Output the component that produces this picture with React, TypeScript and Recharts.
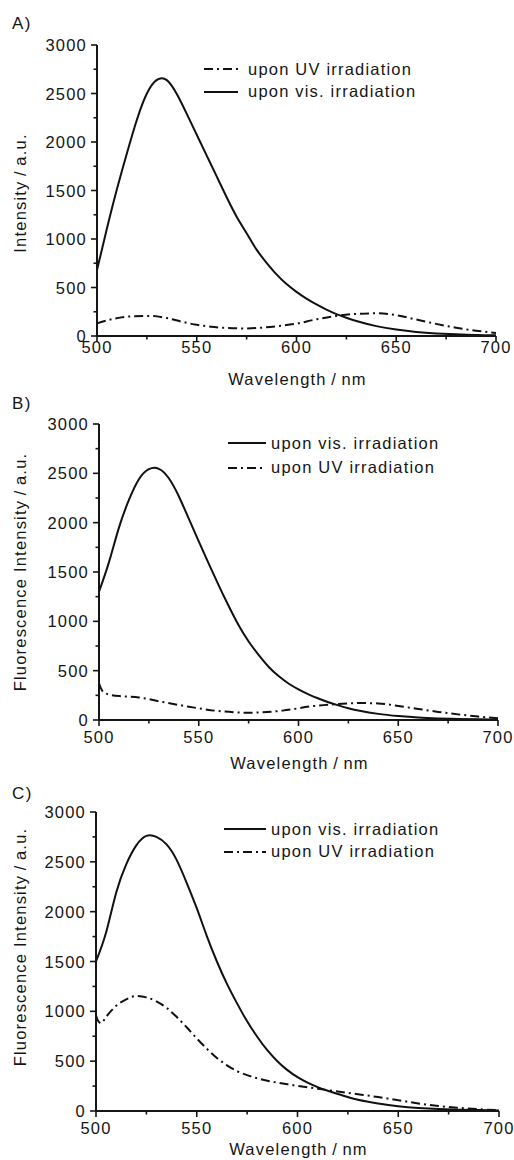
import React from 'react';
import { LineChart, Line, XAxis, YAxis, Legend } from 'recharts';

type Pt = [number, number];

// axis ticks (minor + major), labels only on the majors
const wavelengthTicks = [500, 525, 550, 575, 600, 625, 650, 675, 700];
const intensityTicks = [0, 250, 500, 750, 1000, 1250, 1500, 1750, 2000, 2250, 2500, 2750, 3000];
const wavelengthLabels = [500, 550, 600, 650, 700];
const intensityLabels = [0, 500, 1000, 1500, 2000, 2500, 3000];

// panel A
const aUv: Pt[] = [
  [500, 130], [509, 180], [518, 203], [527, 206], [535, 185], [542, 150], [550, 115],
  [557, 96], [565, 83], [574, 78], [582, 85], [591, 103], [600, 127], [609, 168],
  [620, 207], [630, 228], [640, 234], [650, 215], [660, 170], [670, 125], [680, 85],
  [690, 55], [700, 32],
];
const aVis: Pt[] = [
  [500, 680], [505, 1110], [510, 1515], [515, 1885], [520, 2230], [525, 2500], [530, 2640],
  [535, 2638], [540, 2495], [545, 2290], [550, 2075], [555, 1860], [560, 1645], [565, 1430],
  [570, 1230], [575, 1060], [580, 890], [585, 755], [590, 635], [595, 535], [600, 455],
  [605, 385], [610, 325], [615, 272], [620, 226], [625, 188], [630, 155], [640, 102],
  [650, 66], [660, 42], [670, 27], [680, 17], [690, 10], [700, 7],
];

// panel B
const bVis: Pt[] = [
  [500, 1300], [505, 1600], [510, 1950], [515, 2230], [520, 2440], [525, 2542], [530, 2546],
  [535, 2450], [540, 2268], [545, 2040], [550, 1810], [555, 1585], [560, 1365], [565, 1155],
  [570, 960], [575, 795], [580, 660], [585, 540], [590, 445], [595, 370], [600, 310],
  [605, 260], [610, 218], [615, 180], [620, 148], [625, 120], [630, 97], [640, 62],
  [650, 40], [660, 25], [670, 16], [680, 10], [690, 7], [700, 5],
];
const bUv: Pt[] = [
  [500, 372], [501, 320], [502, 287], [506, 253], [512, 240], [520, 228], [531, 186],
  [545, 135], [558, 95], [575, 74], [592, 95], [607, 140], [620, 162], [630, 172],
  [640, 168], [650, 142], [660, 112], [670, 82], [680, 57], [690, 35], [700, 18],
];

// panel C
const cVis: Pt[] = [
  [500, 1500], [505, 1790], [510, 2190], [515, 2475], [520, 2665], [525, 2760], [530, 2750],
  [535, 2675], [540, 2520], [545, 2290], [550, 2035], [555, 1755], [560, 1500], [565, 1275],
  [570, 1080], [575, 900], [580, 745], [585, 610], [590, 500], [595, 410], [600, 340],
  [605, 285], [610, 240], [615, 203], [620, 170], [625, 140], [630, 112], [640, 75],
  [650, 48], [660, 31], [670, 20], [680, 13], [690, 9], [700, 6],
];
const cUv: Pt[] = [
  [500, 960], [501, 905], [502.5, 882], [505, 945], [510, 1055], [515, 1120], [520, 1154],
  [525, 1140], [530, 1100], [535, 1035], [540, 945], [545, 840], [550, 728], [555, 625],
  [560, 532], [565, 458], [570, 400], [575, 360], [580, 328], [585, 303], [590, 285],
  [595, 268], [600, 252], [610, 224], [620, 195], [630, 168], [640, 140], [650, 108],
  [660, 76], [670, 50], [680, 32], [690, 18], [700, 8],
];

const FONT = '"Liberation Sans", Arial, Helvetica, sans-serif';
const INK = '#151515';
const textStyle: React.CSSProperties = { fontFamily: FONT, fontSize: 16.5, letterSpacing: '1.2px' };
const DASH_DOT = '9 4 2 4';

const toRows = (pts: Pt[]) => pts.map(([x, y]) => ({ x, y }));

interface Series { name: string; pts: Pt[]; dash?: string }

interface PanelCfg {
  tag: string;
  top: number;
  height: number;
  plotLeft: number;
  plotRight: number;
  plotTop: number;
  plotBottom: number;
  xLabelDy: number;
  xTitleY: number;
  yTitle: string;
  yTitleY: number;
  tagBaseline: number;
  legendX: number;
  legendY: number;
  legendRow: number;
  sampleW: number;
  sampleGap: number;
  series: Series[];
}

const panels: PanelCfg[] = [
  {
    tag: 'A)', top: 0, height: 392, plotLeft: 97, plotRight: 496, plotTop: 45, plotBottom: 336,
    xLabelDy: 17, xTitleY: 385, yTitle: 'Intensity\u2009/\u2009a.u.', yTitleY: 193, tagBaseline: 30,
    legendX: 204, legendY: 69, legendRow: 22.5, sampleW: 34, sampleGap: 10,
    series: [
      { name: 'upon UV irradiation', pts: aUv, dash: DASH_DOT },
      { name: 'upon vis. irradiation', pts: aVis },
    ],
  },
  {
    tag: 'B)', top: 378, height: 396, plotLeft: 99, plotRight: 498, plotTop: 424, plotBottom: 720,
    xLabelDy: 23, xTitleY: 769, yTitle: 'Fluorescence Intensity\u2009/\u2009a.u.', yTitleY: 572, tagBaseline: 410,
    legendX: 228, legendY: 443, legendRow: 24.6, sampleW: 38, sampleGap: 5,
    series: [
      { name: 'upon vis. irradiation', pts: bVis },
      { name: 'upon UV irradiation', pts: bUv, dash: DASH_DOT },
    ],
  },
  {
    tag: 'C)', top: 768, height: 392, plotLeft: 96, plotRight: 499, plotTop: 812, plotBottom: 1111,
    xLabelDy: 23, xTitleY: 1155, yTitle: 'Fluorescence Intensity\u2009/\u2009a.u.', yTitleY: 947, tagBaseline: 800,
    legendX: 224, legendY: 829, legendRow: 22.5, sampleW: 42, sampleGap: 5,
    series: [
      { name: 'upon vis. irradiation', pts: cVis },
      { name: 'upon UV irradiation', pts: cUv, dash: DASH_DOT },
    ],
  },
];

const XTick = ({ x, y, payload, dy }: any) => {
  const major = wavelengthLabels.includes(payload.value);
  return (
    <g>
      <line x1={x} x2={x} y1={y} y2={y + (major ? 6 : 3.5)} stroke={INK} strokeWidth={1.6} />
      {major && (
        <text x={x} y={y + dy} textAnchor="middle" fill={INK} style={textStyle}>
          {payload.value}
        </text>
      )}
    </g>
  );
};

const YTick = ({ x, y, payload }: any) => {
  const major = intensityLabels.includes(payload.value);
  return (
    <g>
      <line x1={x} x2={x - (major ? 6 : 3.5)} y1={y} y2={y} stroke={INK} strokeWidth={1.6} />
      {major && (
        <text x={x - 10} y={y + 6} textAnchor="end" fill={INK} style={textStyle}>
          {payload.value}
        </text>
      )}
    </g>
  );
};

const Panel = ({ cfg }: { cfg: PanelCfg }) => {
  const plotTop = cfg.plotTop - cfg.top;
  const plotBottom = cfg.plotBottom - cfg.top;
  const xAxisH = cfg.height - plotBottom;
  const midX = (cfg.plotLeft + cfg.plotRight) / 2 + 1;
  const yTitleY = cfg.yTitleY - cfg.top;

  return (
    <div style={{ position: 'absolute', left: 0, top: cfg.top, width: 514, height: cfg.height }}>
      <LineChart
        width={514}
        height={cfg.height}
        margin={{ top: plotTop, right: 514 - cfg.plotRight, bottom: 0, left: 0 }}
      >
        <XAxis
          type="number"
          dataKey="x"
          domain={[500, 700]}
          ticks={wavelengthTicks}
          interval={0}
          tickSize={0}
          tickMargin={0}
          height={xAxisH}
          axisLine={{ stroke: INK, strokeWidth: 2 }}
          tick={(p: any) => <XTick {...p} dy={cfg.xLabelDy} />}
          label={() => (
            <text x={midX} y={cfg.xTitleY - cfg.top} textAnchor="middle" fill={INK} style={textStyle}>
              {'Wavelength\u2009/\u2009nm'}
            </text>
          )}
        />
        <YAxis
          type="number"
          domain={[0, 3000]}
          ticks={intensityTicks}
          interval={0}
          tickSize={0}
          tickMargin={0}
          width={cfg.plotLeft}
          axisLine={{ stroke: INK, strokeWidth: 2 }}
          tick={(p: any) => <YTick {...p} />}
          label={() => (
            <text
              x={26}
              y={yTitleY}
              textAnchor="middle"
              transform={`rotate(-90, 26, ${yTitleY})`}
              fill={INK}
              style={textStyle}
            >
              {cfg.yTitle}
            </text>
          )}
        />
        {cfg.series.map((s) => (
          <Line
            key={s.name}
            name={s.name}
            data={toRows(s.pts)}
            dataKey="y"
            type={s.dash ? 'monotone' : 'natural'}
            stroke="#111"
            strokeWidth={2}
            strokeDasharray={s.dash}
            dot={false}
            activeDot={false}
            isAnimationActive={false}
          />
        ))}
        <Legend
          layout="vertical"
          align="center"
          verticalAlign="middle"
          wrapperStyle={{
            left: cfg.legendX,
            top: cfg.legendY - cfg.top - cfg.legendRow / 2,
            width: 'auto',
          }}
          content={() => (
            <div style={{ ...textStyle, color: INK }}>
              {cfg.series.map((s) => (
                <div
                  key={s.name}
                  style={{ display: 'flex', alignItems: 'center', height: cfg.legendRow, lineHeight: `${cfg.legendRow}px` }}
                >
                  <svg width={cfg.sampleW} height={6} style={{ display: 'block' }}>
                    <line
                      x1={0}
                      x2={cfg.sampleW}
                      y1={3}
                      y2={3}
                      stroke="#111"
                      strokeWidth={2}
                      strokeDasharray={s.dash}
                    />
                  </svg>
                  <span style={{ marginLeft: cfg.sampleGap, whiteSpace: 'nowrap' }}>{s.name}</span>
                </div>
              ))}
            </div>
          )}
        />
      </LineChart>
      <div
        style={{
          position: 'absolute',
          left: 12,
          top: cfg.tagBaseline - cfg.top - 16,
          fontFamily: FONT,
          fontSize: 17,
          letterSpacing: '1.5px',
          lineHeight: '20px',
          color: INK,
        }}
      >
        {cfg.tag}
      </div>
    </div>
  );
}

export default function App() {
  return (
    <div style={{ position: 'absolute', left: 0, top: 0, width: 514, height: 1160, background: '#fff' }}>
      {panels.map((cfg) => (
        <Panel key={cfg.tag} cfg={cfg} />
      ))}
    </div>
  );
}
